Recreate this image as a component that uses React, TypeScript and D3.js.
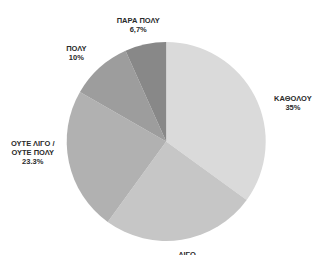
import React, { useEffect, useRef } from "react";
import * as d3 from "d3";

const categories = ["ΚΑΘΟΛΟΥ", "ΛΙΓΟ", "ΟΥΤΕ ΛΙΓΟ / ΟΥΤΕ ΠΟΛΥ", "ΠΟΛΥ", "ΠΑΡΑ ΠΟΛΥ"];
const values = [35, 25, 23.3, 10, 6.7];
const valueLabels = ["35%", "25%", "23.3%", "10%", "6,7%"];
const labelLines = [["ΚΑΘΟΛΟΥ"], ["ΛΙΓΟ"], ["ΟΥΤΕ ΛΙΓΟ /", "ΟΥΤΕ ΠΟΛΥ"], ["ΠΟΛΥ"], ["ΠΑΡΑ ΠΟΛΥ"]];
const colors = ["#dadada", "#c6c6c6", "#b1b1b1", "#9d9d9d", "#888888"];
// small nudges (degrees) so labels sit where the original layout put them
const labelAngleShift = [8, 0, 7, 0, 0];

export default function App() {
  const svgRef = useRef<SVGSVGElement | null>(null);

  useEffect(() => {
    if (!svgRef.current) return;
    const svg = d3.select(svgRef.current);
    svg.selectAll("*").remove();

    const cx = 166.2;
    const cy = 141.5;
    const radius = 99.5;
    const labelRx = 134;
    const labelRy = 119;
    const lineHeight = 9;

    const pie = d3
      .pie<number>()
      .sort(null)
      .value((d) => d);
    const arc = d3.arc<d3.PieArcDatum<number>>().innerRadius(0).outerRadius(radius);

    const arcs = pie(values);

    const g = svg.append("g").attr("transform", `translate(${cx},${cy})`);

    g.selectAll("path")
      .data(arcs)
      .join("path")
      .attr("d", arc)
      .attr("fill", (_, i) => colors[i]);

    // labels sit on an ellipse around the pie, near each slice's mid angle
    arcs.forEach((a, i) => {
      const mid = (a.startAngle + a.endAngle) / 2 + (labelAngleShift[i] * Math.PI) / 180;
      const x = Math.sin(mid) * labelRx;
      const y = -Math.cos(mid) * labelRy;
      const lines = [...labelLines[i], valueLabels[i]];
      const top = y - ((lines.length - 1) * lineHeight) / 2;

      const text = g
        .append("text")
        .attr("text-anchor", "middle")
        .attr("font-family", "'Liberation Sans', Arial, sans-serif")
        .attr("font-weight", "bold")
        .attr("font-size", 7.5)
        .attr("fill", "#2a2a2a")
        .attr("aria-label", categories[i]);

      lines.forEach((line, j) => {
        text
          .append("tspan")
          .attr("x", x)
          .attr("y", top + j * lineHeight)
          .attr("dy", "0.35em")
          .text(line);
      });
    });
  }, []);

  return (
    <div style={{ position: "absolute", left: 0, top: 0, width: 318, height: 255, background: "#fff" }}>
      <svg ref={svgRef} width={318} height={255} style={{ display: "block" }} />
    </div>
  );
}
